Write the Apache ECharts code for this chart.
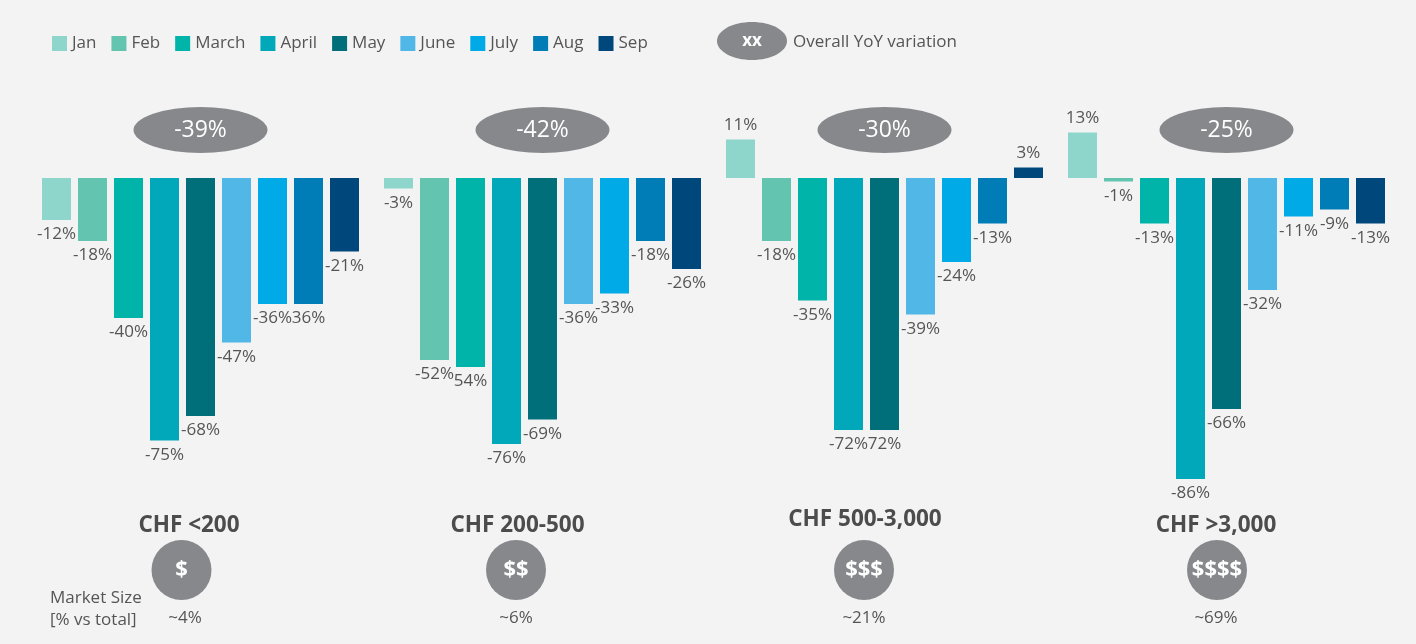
<!DOCTYPE html>
<html><head><meta charset="utf-8">
<script src="https://cdn.jsdelivr.net/npm/echarts@6/dist/echarts.min.js"></script>
<style>html,body{margin:0;padding:0;background:#f2f3f2}#c{width:1416px;height:644px}</style>
</head><body><div id="c"></div>
<script>
const months = ['Jan','Feb','March','April','May','June','July','Aug','Sep'];
const segments = ['CHF <200','CHF 200-500','CHF 500-3,000','CHF >3,000'];
const seg1 = [-12,-18,-40,-75,-68,-47,-36,-36,-21];
const seg2 = [-3,-52,-54,-76,-69,-36,-33,-18,-26];
const seg3 = [11,-18,-35,-72,-72,-39,-24,-13,3];
const seg4 = [13,-1,-13,-86,-66,-32,-11,-9,-13];
const labels1 = ['-12%','-18%','-40%','-75%','-68%','-47%','-36%','36%','-21%'];
const labels2 = ['-3%','-52%','54%','-76%','-69%','-36%','-33%','-18%','-26%'];
const labels3 = ['11%','-18%','-35%','-72%','72%','-39%','-24%','-13%','3%'];
const labels4 = ['13%','-1%','-13%','-86%','-66%','-32%','-11%','-9%','-13%'];
const yoy = ['-39%','-42%','-30%','-25%'];
const priceSymbols = ['$','$$','$$$','$$$$'];
const marketSize = ['~4%','~6%','~21%','~69%'];

const colors = ['#8ed5cb','#63c4b0','#00b4aa','#00a8ba','#006f7a','#50b7e7','#00aae7','#007cb6','#00487c'];
const segValues = [seg1, seg2, seg3, seg4];
const segLabels = [labels1, labels2, labels3, labels4];
const FONT = 'Open Sans';
const GRAY = '#86888c';
// annotation rows (in axis units)
const ovalRow = 13.7, titleRow = -99.3, circleRow = -112, sizeRow = -125.7;
const titleShift = [[-11.5, 0], [-25, 0], [-19.5, -5.5], [-10.5, 0]];
const circleShift = [-19, -26.5, -20.5, -9.5];
const sizeShift = [-15.5, -26.5, -20.5, -10.5];

const barSeries = months.map((m, k) => ({
  name: m, type: 'bar', barWidth: 29, barGap: '24.14%', barCategoryGap: '7.3%',
  itemStyle: { color: colors[k] },
  silent: true,
  data: segValues.map((arr, g) => ({ value: arr[k], labelText: segLabels[g][k] })),
  label: {
    show: true, position: 'outside', distance: 6,
    fontFamily: FONT, fontSize: 17, color: '#555',
    formatter: p => p.data.labelText
  }
}));

const hidden = { color: 'rgba(0,0,0,0)' };
const annot = [
  {
    type: 'scatter', silent: true, z: 5,
    symbol: 'circle', symbolSize: [134, 46], itemStyle: { color: GRAY, opacity: 1 },
    data: yoy.map((t, i) => ({ value: [i, ovalRow], txt: t })),
    label: { show: true, position: 'inside', formatter: p => p.data.txt, color: '#fff', fontFamily: FONT, fontSize: 23 }
  },
  {
    type: 'scatter', silent: true, z: 5, symbol: 'circle', symbolSize: 2, itemStyle: hidden,
    data: segments.map((t, i) => ({ value: [i, titleRow], txt: t, symbolOffset: titleShift[i] })),
    label: { show: true, position: 'inside', formatter: p => p.data.txt, color: '#222', fontFamily: FONT, fontSize: 22.5, fontWeight: 'bold' }
  },
  {
    type: 'scatter', silent: true, z: 5,
    symbol: 'circle', symbolSize: 60, itemStyle: { color: GRAY, opacity: 1 },
    data: priceSymbols.map((t, i) => ({ value: [i, circleRow], txt: t, symbolOffset: [circleShift[i], 0] })),
    label: { show: true, position: 'inside', formatter: p => p.data.txt, color: '#fff', fontFamily: FONT, fontSize: 22, fontWeight: 'bold' }
  },
  {
    type: 'scatter', silent: true, z: 5, symbol: 'circle', symbolSize: 2, itemStyle: hidden,
    data: marketSize.map((t, i) => ({ value: [i, sizeRow], txt: t, symbolOffset: [sizeShift[i], 0] })),
    label: { show: true, position: 'inside', formatter: p => p.data.txt, color: '#555', opacity: 1, textBorderWidth: 0, fontFamily: FONT, fontSize: 17 }
  }
];

const chart = echarts.init(document.getElementById('c'));
chart.setOption({
  backgroundColor: '#f2f3f2',
  animation: false,
  legend: {
    data: months, left: 52, top: 35, itemWidth: 15, itemHeight: 15, itemGap: 15, padding: 0,
    icon: 'rect', selectedMode: false,
    textStyle: { fontFamily: FONT, fontSize: 17, color: '#555' }
  },
  grid: { left: 29.5, right: 18.5, top: 108, height: 525 },
  xAxis: { type: 'category', data: segments, show: false },
  yAxis: { type: 'value', min: -130, max: 20, show: false },
  graphic: [
    { type: 'ellipse', shape: { cx: 752, cy: 41, rx: 35, ry: 19 }, style: { fill: GRAY } },
    { type: 'text', style: { x: 752, y: 41, text: 'xx', fill: '#fff', font: 'bold 17px "Open Sans"', align: 'center', verticalAlign: 'middle' } },
    { type: 'text', style: { x: 793, y: 42, text: 'Overall YoY variation', fill: '#555', font: '17px "Open Sans"', align: 'left', verticalAlign: 'middle' } },
    { type: 'text', style: { x: 50, y: 587, text: 'Market Size\n[% vs total]', fill: '#555', font: '17px "Open Sans"', lineHeight: 22, align: 'left', verticalAlign: 'top' } }
  ],
  series: barSeries.concat(annot)
});
</script>
</body></html>
